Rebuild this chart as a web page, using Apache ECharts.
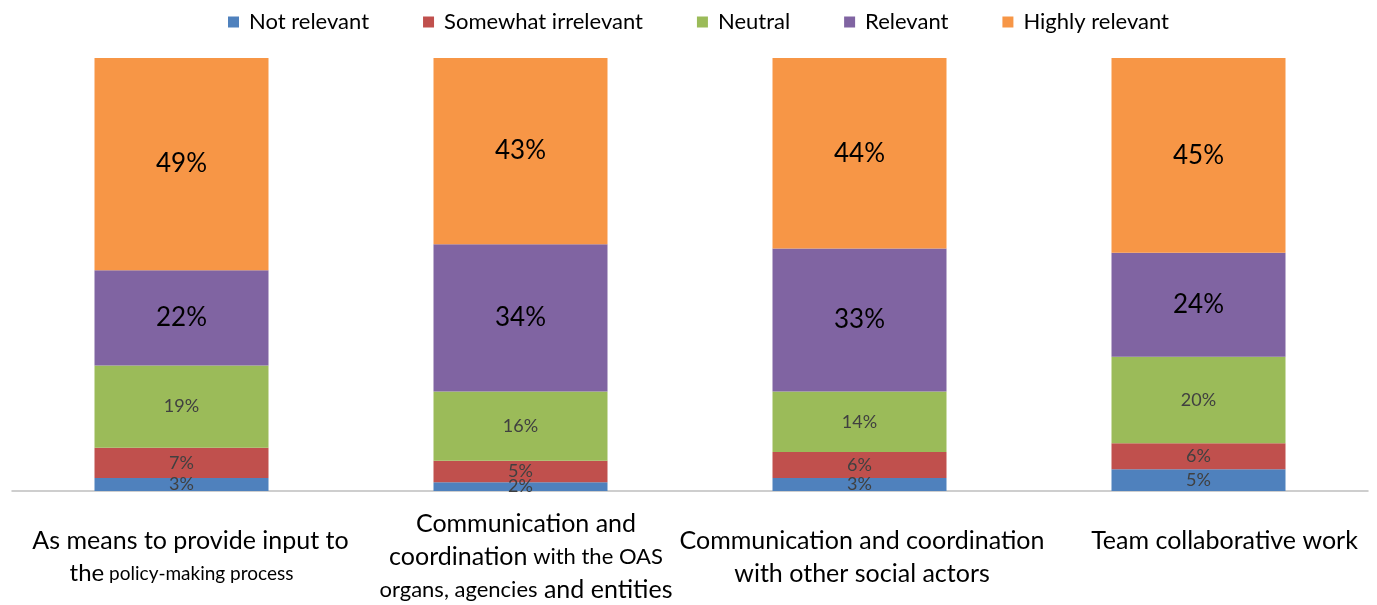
<!DOCTYPE html>
<html><head><meta charset="utf-8">
<script src="https://cdn.jsdelivr.net/npm/echarts@6/dist/echarts.min.js"></script>
<style>html,body{margin:0;padding:0;background:#fff}#c{width:1377px;height:605px}</style>
</head><body><div id="c"></div>
<script>
const categories = [
  "{p1|As means to provide input to}\n{q1|the}{s1| policy-making process}",
  "{p2|Communication and}\n{p2|coordination}{s2| with the OAS}\n{t2|organs, agencies}{a| and entities}",
  "{p3|Communication and coordination}\n{p3|with other social actors}",
  "{p4|Team collaborative work}\n{a| }"
];
const seriesNames = ["Not relevant", "Somewhat irrelevant", "Neutral", "Relevant", "Highly relevant"];
const notRelevant = [3, 2, 3, 5];
const somewhatIrrelevant = [7, 5, 6, 6];
const neutral = [19, 16, 14, 20];
const relevant = [22, 34, 33, 24];
const highlyRelevant = [49, 43, 44, 45];
const colors = ["#4f81bd", "#c0504d", "#9bbb59", "#8064a2", "#f79646"];
const FONT = "Lato, 'Open Sans', sans-serif";
const values = [notRelevant, somewhatIrrelevant, neutral, relevant, highlyRelevant];
const big = [false, false, false, true, true];

const A = { fontSize: 25, lineHeight: 33, color: '#000', fontFamily: FONT };
const chart = echarts.init(document.getElementById('c'));
chart.setOption({
  animation: false,
  textStyle: { fontFamily: FONT },
  legend: {
    top: 6, left: 223, itemWidth: 11, itemHeight: 11, itemGap: 54,
    icon: 'rect',
    textStyle: { fontSize: 22, color: '#000', fontFamily: FONT, padding: [0, 0, 0, 5] },
    data: seriesNames
  },
  grid: { left: 12, right: 9, top: 58, bottom: 114 },
  xAxis: {
    type: 'category', data: categories,
    axisTick: { show: false },
    axisLine: { lineStyle: { color: '#bfbfbf', width: 1.5 } },
    axisLabel: {
      interval: 0, margin: 66, verticalAlign: 'middle', align: 'center',
      rich: {
        a: A,
        p1: Object.assign({}, A, { padding: [0, 0, 0, 18] }),
        q1: Object.assign({}, A, { fontSize: 24 }),
        s1: Object.assign({}, A, { fontSize: 19, padding: [0, 0, 0, 0] }),
        p2: Object.assign({}, A, { padding: [0, 0, 0, 11] }),
        s2: Object.assign({}, A, { fontSize: 22 }),
        t2: Object.assign({}, A, { fontSize: 22, padding: [0, 0, 0, 11] }),
        p3: Object.assign({}, A, { padding: [0, 0, 0, 5] }),
        p4: Object.assign({}, A, { padding: [0, 0, 0, 52] })
      }
    }
  },
  yAxis: { type: 'value', min: 0, max: 100, show: false, splitLine: { show: false } },
  series: seriesNames.map((n, i) => ({
    name: n, type: 'bar', stack: 'total', barWidth: 174,
    data: values[i],
    itemStyle: { color: colors[i] },
    label: {
      show: true, position: 'inside', formatter: '{c}%',
      fontSize: big[i] ? 26 : 18,
      color: big[i] ? '#000' : '#404040',
      fontFamily: FONT
    }
  }))
});
</script></body></html>
